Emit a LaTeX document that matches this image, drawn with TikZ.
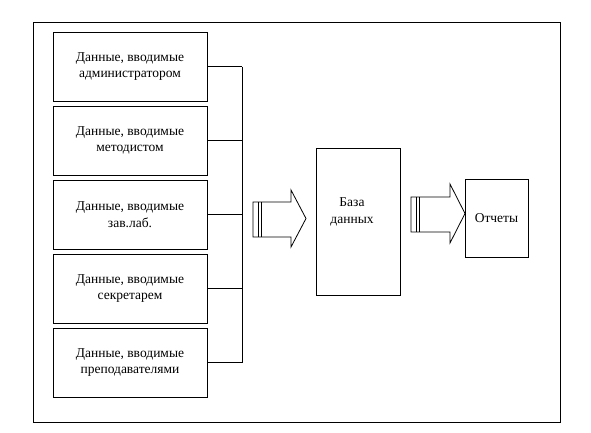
\documentclass[tikz,border=0pt]{standalone}
\usepackage{fontspec}
\setmainfont{Liberation Serif}
\usetikzlibrary{positioning}

\begin{document}
\begin{tikzpicture}[x=1pt, y=-1pt,
        box/.style={rectangle, draw, line width=0.8pt, minimum width=154pt, minimum height=69pt,
                    align=center, inner sep=2pt, outer sep=0pt, font=\fontsize{13.5}{16.6}\selectfont},
        bus/.style={line width=0.8pt},
        fat/.style={draw, line width=0.8pt, line join=miter},
        node distance=5pt]
      \useasboundingbox (0,0) rectangle (591,432);
      \draw[line width=0.8pt] (33,22) rectangle (560,422);
      % sources of data
      \node[box] (adm) at (130,66.5) {Данные, вводимые\\администратором};
      \node[box, below=of adm] (met) {Данные, вводимые\\методистом};
      \node[box, below=of met] (zav) {Данные, вводимые\\зав.лаб.};
      \node[box, below=of zav] (sek) {Данные, вводимые\\секретарем};
      \node[box, below=of sek] (pre) {Данные, вводимые\\преподавателями};
      % bus
      \coordinate (bus) at (242,0);
      \foreach \n in {adm,met,zav,sek,pre}
        \draw[bus] (\n.east) -- (\n.east -| bus);
      \draw[bus] (adm.east -| bus) -- (pre.east -| bus);
      % database and reports
      \node[box, minimum width=84pt, minimum height=147pt] (db) at (358,221.5) {};
      \node[font=\fontsize{13.5}{16.6}\selectfont, align=center] (dbtext) at (352,212) {База\\данных};
      \node[box, minimum width=63pt, minimum height=78pt] (rep) at (496.5,218) {Отчеты};
      % block arrows
      \draw[fat] (253,202) -- (291,202) -- (291,190) -- (306,218.5) -- (291,247) -- (291,237) -- (253,237) -- cycle;
      \draw[line width=0.8pt] (258,202) -- (258,237);
      \draw[line width=1.6pt] (261.5,202) -- (261.5,237);
      \draw[fat] (411,197) -- (450,197) -- (450,184) -- (rep.west |- 0,213.5) -- (450,243) -- (450,232) -- (411,232) -- cycle;
      \draw[line width=0.8pt] (416,197) -- (416,232);
      \draw[line width=1.6pt] (419.5,197) -- (419.5,232);
    \end{tikzpicture}
\end{document}
